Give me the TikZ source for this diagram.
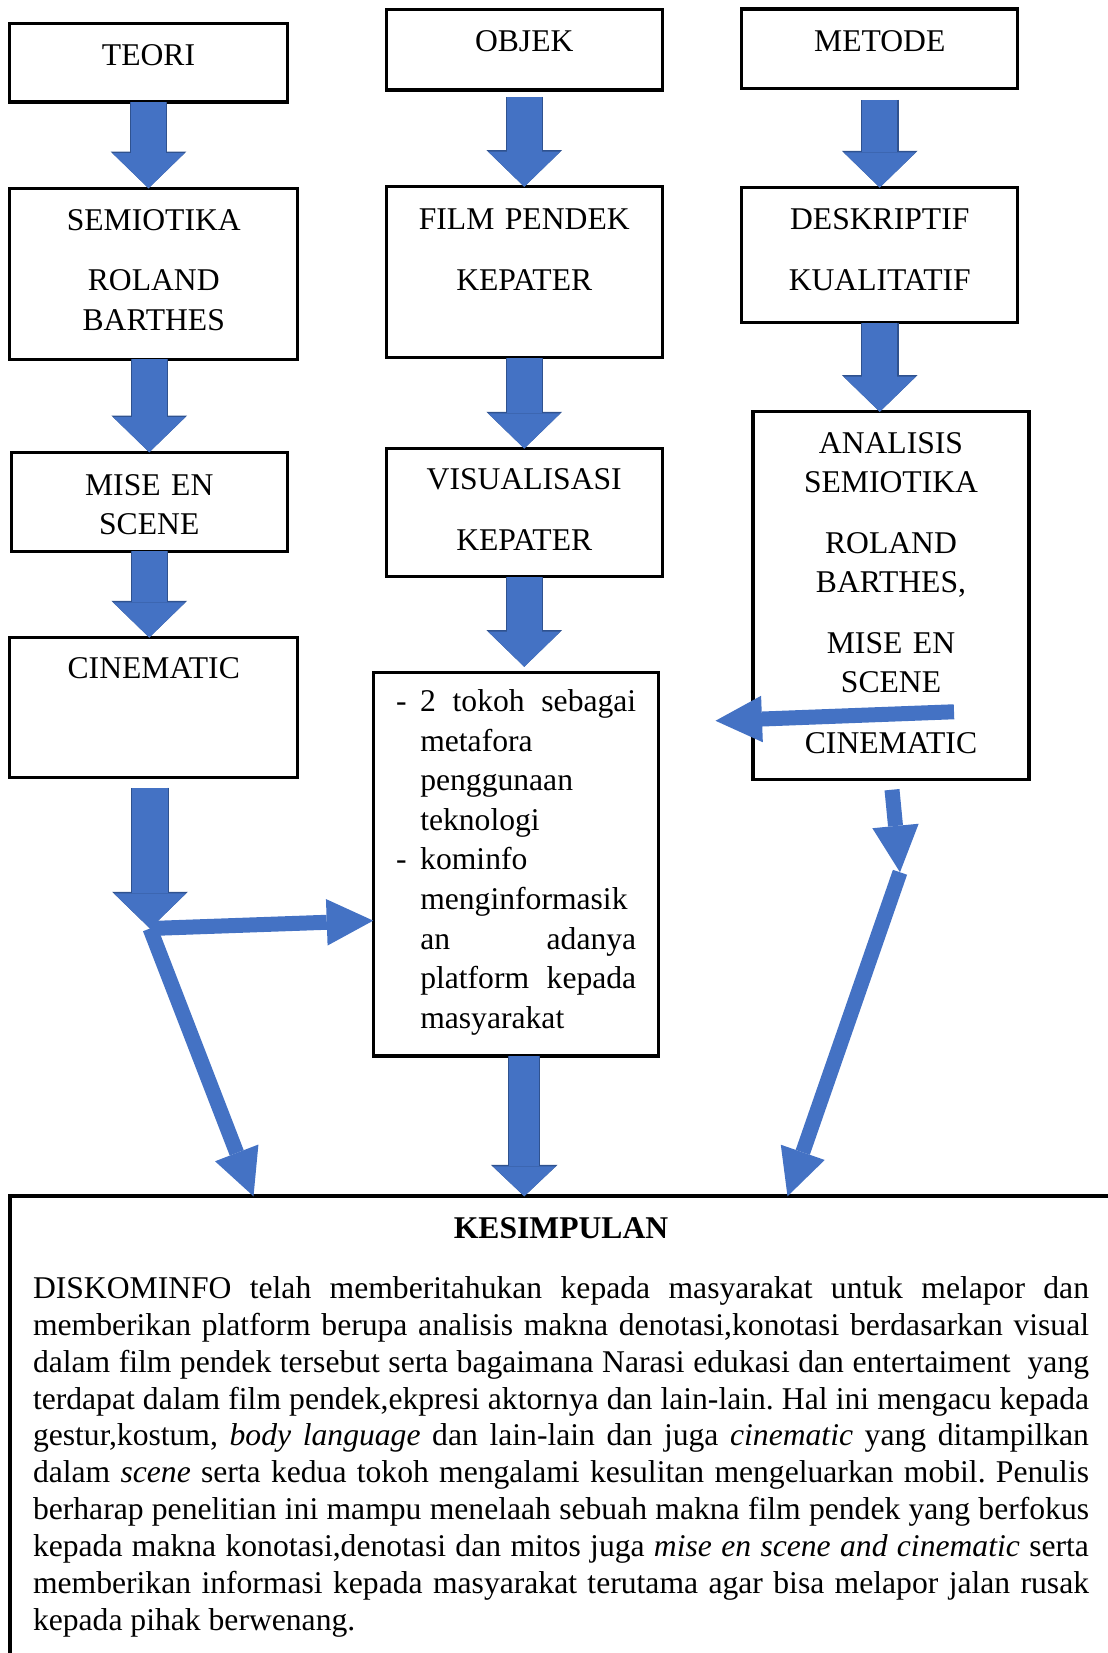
\documentclass[tikz,border=0pt]{standalone}
\usepackage{fontspec}
\setmainfont{Liberation Serif}
\usepackage{tikz}
\usetikzlibrary{arrows.meta, positioning}
\usepackage{xcolor}
\definecolor{arrowblue}{RGB}{68,114,196}
\definecolor{arrowedge}{RGB}{47,82,143}
\frenchspacing
\tikzset{
  basebox/.style={
    rectangle, draw=black, line width=1.25pt, fill=white, anchor=north,
    align=center, inner sep=0pt, outer sep=0pt, font=\fontsize{12pt}{15pt}\selectfont
  },
  narrowbox/.style={basebox, text width=3.68cm},
  widebox/.style={basebox, text width=3.84cm},
  listbox/.style={basebox, align=left, text width=3.207cm, inner xsep=0.3cm},
  summarybox/.style={basebox, line width=1.5pt, anchor=north west, align=justify,
    text width=14.08cm, inner xsep=0.31cm, font=\fontsize{12pt}{14pt}\selectfont},
  blockarrow/.style={draw=arrowblue, line width=0.467cm,
    -{Triangle[width=0.96cm, length=0.467cm, line width=0pt]},
    preaction={draw=arrowedge, line width=0.5cm, -{Triangle[width=1.01cm, length=0.49cm, line width=0pt]}}},
  narrowblock/.style={draw=arrowblue, line width=0.4cm,
    -{Triangle[width=0.84cm, length=0.4cm, line width=0pt]},
    preaction={draw=arrowedge, line width=0.433cm, -{Triangle[width=0.89cm, length=0.42cm, line width=0pt]}}},
  thinarrow/.style={draw=arrowblue, line width=0.2cm,
    -{Triangle[width=0.62cm, length=0.62cm, line width=0pt]}}
}

\begin{document}
\begin{tikzpicture}
  \useasboundingbox (0,0) rectangle (14.773,-22.04);

  \node[narrowbox, text width=3.70cm, text height=0.56cm, text depth=0.49cm] (teori) at (1.98,-0.31) {TEORI};
  \node[widebox, below=1.15cm of teori, xshift=0.07cm, text height=0.56cm, text depth=1.72cm] (semiotika)
        {SEMIOTIKA\\[8pt] ROLAND\\ BARTHES};
  \node[narrowbox, below=1.24cm of semiotika, xshift=-0.06cm, text height=0.57cm, text depth=0.75cm] (mise)
        {MISE EN\\ SCENE};
  \node[widebox, below=1.15cm of mise, xshift=0.06cm, text height=0.55cm, text depth=1.32cm] (cinematic)
        {CINEMATIC};

  \node[narrowbox, text height=0.56cm, text depth=0.51cm] (objek) at (6.99,-0.13) {OBJEK};
  \node[narrowbox, below=1.29cm of objek, text height=0.57cm, text depth=1.71cm] (film)
        {FILM PENDEK\\[8pt] KEPATER};
  \node[narrowbox, below=1.21cm of film, text height=0.55cm, text depth=1.16cm] (visual)
        {VISUALISASI\\[8pt] KEPATER};
  \node[listbox, below=1.28cm of visual, xshift=-0.11cm, text height=0.52cm, text depth=4.59cm] (poin)
        {\leftskip=0.327cm
         \leavevmode\llap{-\hspace{0.18cm}}2\hfill tokoh\hfill sebagai\\
         metafora\\ penggunaan\\ teknologi\\
         \leavevmode\llap{-\hspace{0.18cm}}kominfo\\
         menginformasik\\ an\hfill adanya\\ platform\hfill kepada\\ masyarakat\par};

  \node[narrowbox, text height=0.57cm, text depth=0.49cm] (metode) at (11.73,-0.12) {METODE};
  \node[narrowbox, below=1.32cm of metode, text height=0.56cm, text depth=1.24cm] (deskriptif)
        {DESKRIPTIF\\[8pt] KUALITATIF};
  \node[narrowbox, below=1.19cm of deskriptif, xshift=0.15cm, text height=0.55cm, text depth=4.35cm] (analisis)
        {ANALISIS\\ SEMIOTIKA\\[8pt] ROLAND\\ BARTHES,\\[8pt] MISE EN\\ SCENE\\[8pt] CINEMATIC};

  \node[summarybox, text height=0.56cm, text depth=6cm] (kesimpulan) at (0.13,-15.95)
        {{\centering\bfseries KESIMPULAN\par}\vspace{8.8pt}
         \noindent\sloppy DISKOMINFO telah memberitahukan kepada masyarakat untuk melapor dan\linebreak
         memberikan platform berupa analisis makna denotasi,konotasi berdasarkan visual\linebreak
         dalam film pendek tersebut serta bagaimana Narasi edukasi dan entertaiment~ yang\linebreak
         terdapat dalam film pendek,ekpresi aktornya dan lain-lain. Hal ini mengacu kepada\linebreak
         gestur,kostum, \textit{body language} dan lain-lain dan juga \textit{cinematic} yang ditampilkan\linebreak
         dalam \textit{scene} serta kedua tokoh mengalami kesulitan mengeluarkan mobil. Penulis\linebreak
         berharap penelitian ini mampu menelaah sebuah makna film pendek yang berfokus\linebreak
         kepada makna konotasi,denotasi dan mitos juga \textit{mise en scene and cinematic} serta\linebreak
         memberikan informasi kepada masyarakat terutama agar bisa melapor jalan rusak\linebreak
         kepada pihak berwenang.};

  \coordinate (split) at (2.0,-12.38);
  \coordinate (kink) at (12.0,-11.63);

  \draw[blockarrow] (teori.south) -- (teori.south |- semiotika.north);
  \draw[blockarrow] (mise.north |- semiotika.south) -- (mise.north);
  \draw[blockarrow] (mise.south) -- (mise.south |- cinematic.north);
  \draw[blockarrow, shorten <=0.13cm] (split |- cinematic.south) -- (split);
  \draw[blockarrow, shorten <=0.09cm] (objek) -- (film);
  \draw[blockarrow] (film) -- (visual);
  \draw[blockarrow, shorten >=0.08cm] (visual.south) -- (visual.south |- poin.north);
  \draw[blockarrow, shorten <=0.15cm] (metode) -- (deskriptif);
  \draw[blockarrow] (deskriptif.south) -- (deskriptif.south |- analisis.north);
  \draw[narrowblock] ([xshift=0.11cm]poin.south) -- ([xshift=0.11cm]poin.south |- kesimpulan.north);

  \draw[thinarrow] (split) -- ([yshift=-0.75cm]poin.west);
  \draw[thinarrow] (split) -- ([xshift=3.25cm]kesimpulan.north west);
  \draw[thinarrow] ([shift={(-1.0,-1.55)}]analisis.east) -- ([shift={(-0.5,-1.67)}]analisis.west);
  \draw[thinarrow, shorten <=0.14cm] (analisis.south) -- (kink);
  \draw[thinarrow] (kink) -- ([xshift=10.37cm]kesimpulan.north west);
\end{tikzpicture}
\end{document}
